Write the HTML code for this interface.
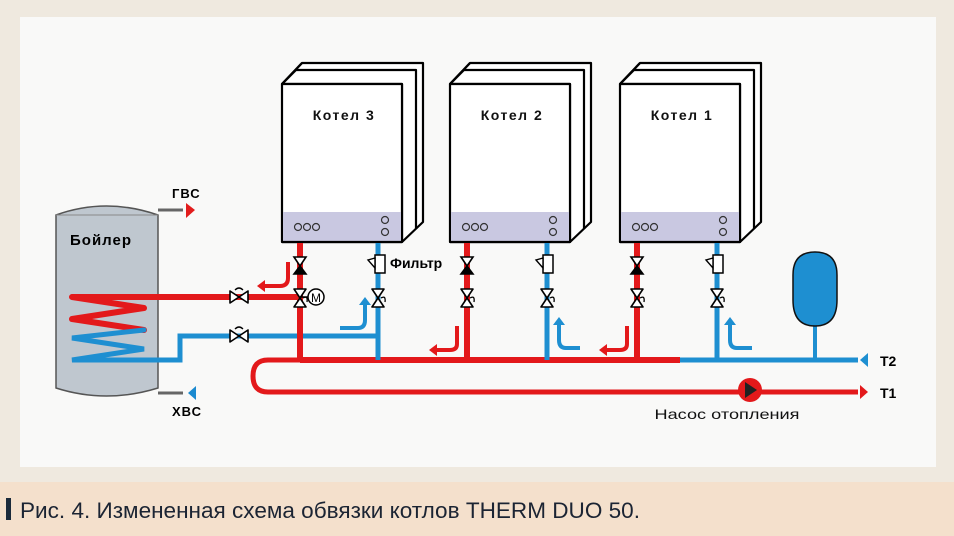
<!DOCTYPE html>
<html><head><meta charset="utf-8"><style>
html,body{margin:0;padding:0;width:954px;height:536px;overflow:hidden;background:#efe9df}
svg{display:block}
text{font-family:"Liberation Sans","DejaVu Sans",sans-serif}
</style></head><body>
<svg width="954" height="536" viewBox="0 0 954 536" xmlns="http://www.w3.org/2000/svg">
<defs>
<g id="bv"><path d="M-6,-9 L6,-9 L-6,9 L6,9 Z" fill="#fff" stroke="#000" stroke-width="1.6" stroke-linejoin="round"/><path d="M3,0 q5,-3 4,4" fill="none" stroke="#000" stroke-width="1.3"/></g>
<g id="cv"><path d="M-6,-17 L6,-17 L0,-8 Z" fill="#fff" stroke="#000" stroke-width="1.6"/><path d="M0,-8 L-6,0 L6,0 Z" fill="#000" stroke="#000" stroke-width="1.6"/></g>
<g id="flt"><rect x="-5" y="-9" width="10" height="18" fill="#fff" stroke="#000" stroke-width="1.5"/><path d="M-5,-6 L-12,-4 L-5,4 Z" fill="#fff" stroke="#000" stroke-width="1.4"/></g>
<g id="hv"><path d="M-9,-6 L-9,6 L9,-6 L9,6 Z" fill="#fff" stroke="#000" stroke-width="1.6" stroke-linejoin="round"/><path d="M-4,-7 q4,-4 8,0" fill="none" stroke="#000" stroke-width="1.3"/></g>
</defs>
<rect x="0" y="0" width="954" height="536" fill="#efe9df"/>
<rect x="20" y="17" width="916" height="450" fill="#f9f9f8"/>
<rect x="0" y="482" width="954" height="54" fill="#f4e0cc"/>
<rect x="6" y="498" width="5" height="22" fill="#1a2a3a"/>
<text x="20" y="518" font-size="22" fill="#1b2433" textLength="620" lengthAdjust="spacingAndGlyphs">Рис. 4. Измененная схема обвязки котлов THERM DUO 50.</text>

<g stroke="#000" stroke-width="2.2" fill="#fff" stroke-linejoin="round">
 <g id="k3">
  <path d="M302,63 L423,63 L423,222 L402,242 L402,84 L282,84 Z"/>
  <path d="M282,84 L296,70 L416,70 L416,229" fill="none"/>
  <path d="M282,84 L302,63" fill="none"/>
  <rect x="282" y="84" width="120" height="158" fill="#fff"/>
  <rect x="283" y="212" width="118" height="29" fill="#c9c8e1" stroke="none"/>
  <line x1="282" y1="242" x2="402" y2="242"/>
 </g>
 <use href="#k3" x="168"/>
 <use href="#k3" x="338"/>
</g>
<g font-size="14" font-weight="bold" fill="#111" text-anchor="middle" letter-spacing="1.5">
 <text x="344" y="120">Котел 3</text><text x="512" y="120">Котел 2</text><text x="682" y="120">Котел 1</text>
</g>
<g fill="none" stroke="#333" stroke-width="1.2">
 <circle cx="298" cy="227" r="3.5"/><circle cx="307" cy="227" r="3.5"/><circle cx="316" cy="227" r="3.5"/>
 <circle cx="385" cy="220" r="3.5"/><circle cx="385" cy="232" r="3.5"/>
 <circle cx="466" cy="227" r="3.5"/><circle cx="475" cy="227" r="3.5"/><circle cx="484" cy="227" r="3.5"/>
 <circle cx="553" cy="220" r="3.5"/><circle cx="553" cy="232" r="3.5"/>
 <circle cx="636" cy="227" r="3.5"/><circle cx="645" cy="227" r="3.5"/><circle cx="654" cy="227" r="3.5"/>
 <circle cx="723" cy="220" r="3.5"/><circle cx="723" cy="232" r="3.5"/>
</g>

<path d="M56,215 Q106,197 158,215 L158,388 Q106,404 56,388 Z" fill="#bfc7cf" stroke="#555" stroke-width="1.5"/>
<line x1="56" y1="215" x2="158" y2="215" stroke="#888" stroke-width="1"/>
<line x1="158" y1="210" x2="183" y2="210" stroke="#666" stroke-width="3"/>
<line x1="158" y1="393" x2="183" y2="393" stroke="#666" stroke-width="3"/>
<path d="M186,203 L195,210 L186,218 Z" fill="#e21c1c"/>
<path d="M196,386 L188,393 L196,400 Z" fill="#1b8ad0"/>
<text x="172" y="198" font-size="13" font-weight="bold" letter-spacing="1">ГВС</text>
<text x="172" y="416" font-size="13" font-weight="bold" letter-spacing="1">ХВС</text>
<text x="70" y="245" font-size="15" font-weight="bold" letter-spacing="1">Бойлер</text>

<polyline points="72,297 300,297" fill="none" stroke="#e3191b" stroke-width="6"/>
<polyline points="72,297 144,308 72,319 144,330" fill="none" stroke="#e3191b" stroke-width="6" stroke-linecap="round" stroke-linejoin="round"/>
<polyline points="144,330 72,338 144,349 72,360 180,360 180,336 378,336" fill="none" stroke="#1e8fd1" stroke-width="5" stroke-linecap="round" stroke-linejoin="miter"/>

<path d="M300,360 L680,360" stroke="#e3191b" stroke-width="6"/>
<path d="M680,360 L858,360" stroke="#1e8fd1" stroke-width="5"/>
<path d="M300,360 L268,360 Q253,360 253,376 Q253,392 268,392 L858,392" fill="none" stroke="#e3191b" stroke-width="5"/>
<path d="M868,353 L860,360 L868,367 Z" fill="#1e8fd1"/>
<path d="M860,385 L868,392 L860,399 Z" fill="#e3191b"/>
<text x="880" y="366" font-size="14" font-weight="bold">Т2</text>
<text x="880" y="398" font-size="14" font-weight="bold">Т1</text>
<circle cx="750" cy="390" r="12" fill="#e3191b"/>
<path d="M745,382 L757,390 L745,398 Z" fill="#222"/>
<text x="727" y="419" font-size="14" text-anchor="middle" fill="#111" textLength="145" lengthAdjust="spacingAndGlyphs">Насос отопления</text>

<line x1="815" y1="320" x2="815" y2="360" stroke="#1e8fd1" stroke-width="4"/>
<path d="M793,275 Q793,252 815,252 Q837,252 837,275 L837,300 Q837,326 815,326 Q793,326 793,300 Z" fill="#1e8fd1" stroke="#111" stroke-width="1.5"/>

<g stroke-width="6">
 <line x1="300" y1="243" x2="300" y2="360" stroke="#e3191b"/>
 <line x1="467" y1="243" x2="467" y2="360" stroke="#e3191b"/>
 <line x1="637" y1="243" x2="637" y2="360" stroke="#e3191b"/>
</g>
<g stroke-width="5">
 <line x1="378" y1="243" x2="378" y2="360" stroke="#1e8fd1"/>
 <line x1="547" y1="243" x2="547" y2="360" stroke="#1e8fd1"/>
 <line x1="717" y1="243" x2="717" y2="360" stroke="#1e8fd1"/>
</g>

<use href="#cv" x="300" y="274"/><use href="#cv" x="467" y="274"/><use href="#cv" x="637" y="274"/>
<use href="#bv" x="300" y="298"/><use href="#bv" x="467" y="298"/><use href="#bv" x="637" y="298"/>
<use href="#bv" x="378" y="298"/><use href="#bv" x="547" y="298"/><use href="#bv" x="717" y="298"/>
<use href="#flt" x="380" y="264"/><use href="#flt" x="548" y="264"/><use href="#flt" x="718" y="264"/>
<text x="390" y="268" font-size="14" font-weight="bold">Фильтр</text>
<use href="#hv" x="239" y="297"/>
<use href="#hv" x="239" y="336"/>
<circle cx="316" cy="297" r="8" fill="#fff" stroke="#000" stroke-width="1.5"/>
<text x="316" y="302" font-size="12" text-anchor="middle">M</text>
<line x1="300" y1="297" x2="308" y2="297" stroke="#000" stroke-width="1.5"/>

<g fill="none" stroke-width="4" stroke-linecap="butt">
 <path d="M288,262 L288,278 Q288,286 280,286 L264,286" stroke="#e3191b"/>
 <path d="M457,326 L457,344 Q457,350 450,350 L436,350" stroke="#e3191b"/>
 <path d="M627,326 L627,344 Q627,350 620,350 L606,350" stroke="#e3191b"/>
 <path d="M340,328 L358,328 Q365,328 365,320 L365,304" stroke="#1e8fd1"/>
 <path d="M580,348 L566,348 Q559,348 559,340 L559,324" stroke="#1e8fd1"/>
 <path d="M752,348 L737,348 Q730,348 730,340 L730,324" stroke="#1e8fd1"/>
</g>
<path d="M265,280 L257,286 L265,292 Z" fill="#e3191b"/>
<path d="M437,344 L429,350 L437,356 Z" fill="#e3191b"/>
<path d="M607,344 L599,350 L607,356 Z" fill="#e3191b"/>
<path d="M359,305 L365,297 L371,305 Z" fill="#1e8fd1"/>
<path d="M553,325 L559,317 L565,325 Z" fill="#1e8fd1"/>
<path d="M724,325 L730,317 L736,325 Z" fill="#1e8fd1"/>
</svg>
</body></html>
